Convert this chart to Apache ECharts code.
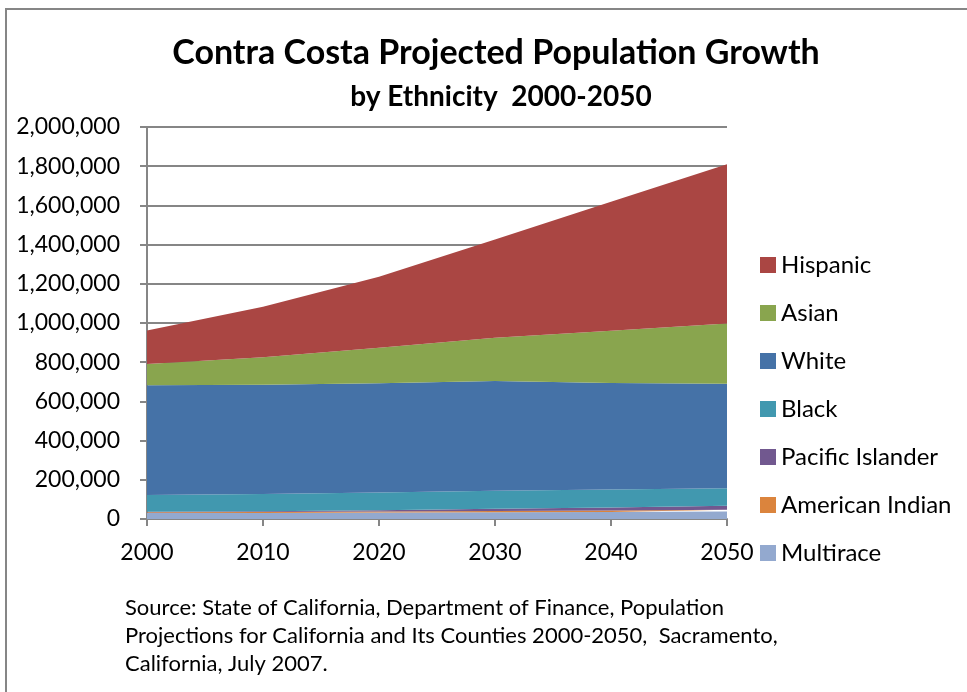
<!DOCTYPE html>
<html>
<head>
<meta charset="utf-8">
<script src="https://cdn.jsdelivr.net/npm/echarts@6/dist/echarts.min.js"></script>
<style>
html,body{margin:0;padding:0;background:#fff;}
#chart{width:967px;height:692px;}
</style>
</head>
<body>
<div id="chart"></div>
<script>
var years = ['2000','2010','2020','2030','2040','2050'];
var multirace = [30000, 31000, 33000, 35000, 36000, 38000];
var americanIndian = [4000, 4500, 5000, 6000, 7500, 9000];
var pacificIslander = [3000, 4000, 7000, 11000, 15000, 20000];
var black = [86000, 87500, 90000, 92000, 91500, 90000];
var white = [559000, 558000, 557000, 560000, 544000, 533000];
var asian = [109000, 140000, 182000, 221000, 266000, 308000];
var hispanic = [171000, 258000, 362000, 501000, 658000, 812000];
var legendOrder = ['Hispanic','Asian','White','Black','Pacific Islander','American Indian','Multirace'];

var FONT = 'Lato, "Liberation Sans", sans-serif';
var chart = echarts.init(document.getElementById('chart'), null, {renderer:'canvas'});

function areaSeries(name, data, color){
  return {
    name: name, type: 'line', stack: 'total', data: data,
    symbol: 'none', showSymbol: false,
    lineStyle: {width: 0},
    areaStyle: {color: color, opacity: 1},
    itemStyle: {color: color},
    emphasis: {disabled: true}
  };
}

chart.setOption({
  animation: false,
  backgroundColor: '#ffffff',
  title: [{
    text: 'Contra Costa Projected Population Growth',
    left: 491, top: 31, textAlign: 'center',
    textStyle: {fontFamily: FONT, fontSize: 34, fontWeight: 'bold', color: '#000'}
  },{
    text: 'by Ethnicity  2000-2050',
    left: 496, top: 78, textAlign: 'center',
    textStyle: {fontFamily: FONT, fontSize: 28, fontWeight: 'bold', color: '#000'}
  }],
  legend: {
    data: legendOrder,
    orient: 'vertical',
    left: 755, top: 248,
    itemWidth: 16, itemHeight: 16, itemGap: 24,
    icon: 'rect',
    textStyle: {fontFamily: FONT, fontSize: 24, color: '#000', lineHeight: 24}
  },
  grid: {left: 147, right: 240, top: 127, bottom: 173},
  xAxis: {
    type: 'category', data: years, boundaryGap: false,
    axisLine: {lineStyle: {color: '#868686', width: 2}},
    axisTick: {show: true, length: 7, lineStyle: {color: '#868686', width: 2}},
    axisLabel: {fontFamily: FONT, fontSize: 23, color: '#000', margin: 22}
  },
  yAxis: {
    type: 'value', min: 0, max: 2000000, interval: 200000,
    axisLine: {show: true, lineStyle: {color: '#868686', width: 2}},
    axisTick: {show: true, length: 7, lineStyle: {color: '#868686', width: 2}},
    splitLine: {lineStyle: {color: '#868686', width: 2}},
    axisLabel: {fontFamily: FONT, fontSize: 23, color: '#000', margin: 27,
      formatter: function(v){ return v.toLocaleString('en-US'); }}
  },
  series: [
    areaSeries('Multirace', multirace, '#93A9CF'),
    areaSeries('American Indian', americanIndian, '#DB843D'),
    areaSeries('Pacific Islander', pacificIslander, '#71588F'),
    areaSeries('Black', black, '#4198AF'),
    areaSeries('White', white, '#4572A7'),
    areaSeries('Asian', asian, '#89A54E'),
    areaSeries('Hispanic', hispanic, '#AA4643')
  ],
  graphic: [{
    type: 'rect', shape: {x: 6, y: 9, width: 1000, height: 720},
    style: {fill: 'none', stroke: '#868686', lineWidth: 2}, silent: true, z: 100
  },{
    type: 'text', left: 125, top: 594,
    style: {text: 'Source: State of California, Department of Finance, Population\nProjections for California and Its Counties 2000-2050,  Sacramento,\nCalifornia, July 2007.',
      font: '22px ' + FONT, fill: '#000', lineHeight: 28}
  }]
});
</script>
</body>
</html>
